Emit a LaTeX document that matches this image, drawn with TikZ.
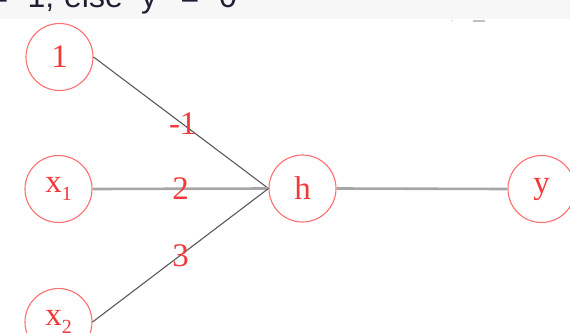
\documentclass[tikz,border=0pt]{standalone}
\usepackage{fontspec}
\setmainfont{Liberation Serif}
\newfontfamily\topfont{Liberation Sans}
\definecolor{nodered}{HTML}{FF6F6F}
\definecolor{textred}{HTML}{F03A3A}
\definecolor{topgrey}{HTML}{F7F7F7}
\definecolor{toptext}{HTML}{202034}
\newcommand{\subidx}[1]{\raisebox{-0.22em}{\fontsize{20}{20}\selectfont #1}}
\begin{document}
\begin{tikzpicture}[x=1pt,y=-1pt,
  neuron/.style={circle,draw=nodered,line width=1.1pt,minimum size=67pt,inner sep=0pt,
    text=textred,font=\fontsize{33}{33}\selectfont},
  wlabel/.style={text=textred,font=\fontsize{33}{33}\selectfont,inner sep=0pt},
  diag/.style={draw=black!65,line width=1.1pt},
  flat/.style={draw=black!35,line width=2.6pt},
  toptok/.style={anchor=base,inner sep=0pt,text=toptext,font=\topfont\fontsize{32}{32}\selectfont}]
\useasboundingbox (0,0) rectangle (570,332);
\clip (0,0) rectangle (570,332);
\fill[topgrey] (0,0) rectangle (570,19);
\node[toptok] (t1) at (-1,8) {=};
\node[toptok] (t2) at (41,8) {1,};
\node[toptok] (t3) at (93.5,8) {else};
\node[toptok] (t4) at (149,8) {y};
\node[toptok] (t5) at (190,8) {=};
\node[toptok] (t6) at (228,8) {0};
\fill[black!25] (473,19.5) rectangle (485,21.5);
\fill[black!15] (452,20.5) circle (1);
% nodes
\node[neuron] (one) at (59.5,57) {1};
\node[neuron] (x1) at (58.5,189) {x\subidx{1}};
\node[neuron] (x2) at (58.5,322) {x\subidx{2}};
\node[neuron] (h) at (302.5,188.5) {h};
\node[neuron] (y) at (541.5,189) {y};
% edges
\draw[diag] (one.east) -- (h.west) node[wlabel,pos=0.51] (w0) {-1};
\draw[flat] (x1.east) -- (h.west) node[wlabel,pos=0.5] (w1) {2};
\draw[diag] (x2.east) -- (h.west) node[wlabel,pos=0.5] (w2) {3};
\draw[flat] (h.east) -- (y.west);
\end{tikzpicture}
\end{document}
